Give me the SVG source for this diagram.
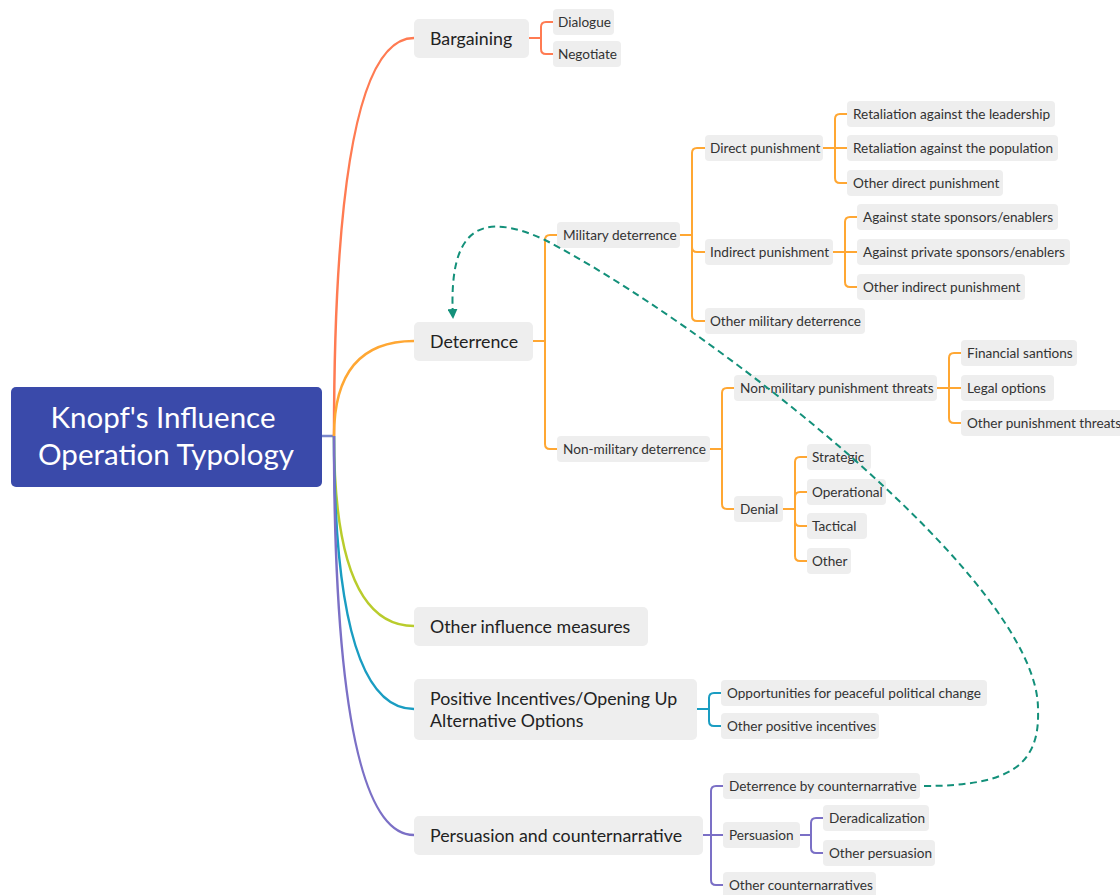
<svg xmlns="http://www.w3.org/2000/svg" width="1120" height="895" viewBox="0 0 1120 895">
<style>
.main rect{fill:#EEEEEE}
.sub rect{fill:#EEEEEE}
.main text{font-family:Lato,"Liberation Sans",sans-serif;font-size:17.8px;fill:#222}
.sub text{font-family:Lato,"Liberation Sans",sans-serif;font-size:13.6px;fill:#333}
.c{fill:none;stroke-width:2;stroke-linecap:round}
.m{fill:none;stroke-width:2.5}
.o1{stroke:#FF7B52}
.o2{stroke:#FFA733}
.o3{stroke:#B9CC2C}
.o4{stroke:#1A9DC2}
.o5{stroke:#7B70C6}
.rel{fill:none;stroke:#13907A;stroke-width:2;stroke-dasharray:7,4.5}
</style>
<defs>
<marker id="arr" viewBox="0 0 10 10" refX="9" refY="5" markerWidth="5" markerHeight="5" orient="auto" markerUnits="strokeWidth">
<path d="M0,0 L10,5 L0,10 z" fill="#13907A"/>
</marker>
</defs>
<g id="connectors">
<path class="m" d="M322,436 H334" stroke="#7986CB"/>
<path class="m o1" d="M334,436 Q334,38 414,38"/>
<path class="m o2" d="M334,436 Q334,341 414,341"/>
<path class="m o3" d="M334,436 Q334,626 414,626"/>
<path class="m o4" d="M334,436 Q334,709 414,709"/>
<path class="m o5" d="M334,436 Q334,835 414,835"/>
<g class="c o1">
<path d="M529,38 H541 M541,38 V27 Q541,22 546,22 H553 M541,38 V49 Q541,54 546,54 H553"/>
</g>
<g class="c o2">
<path d="M533,341 H545 M545,341 V240 Q545,235 550,235 H557 M545,341 V444 Q545,449 550,449 H557"/>
<path d="M680,235 H692 M692,235 V153 Q692,148 697,148 H705 M692,235 V247 Q692,252 697,252 H705 M692,235 V316 Q692,321 697,321 H705"/>
<path d="M823,148 H835 M835,148 V119 Q835,114 840,114 H847 M835,148 H847 M835,148 V178 Q835,183 840,183 H847"/>
<path d="M833,252 H845 M845,252 V222 Q845,217 850,217 H857 M845,252 H857 M845,252 V282 Q845,287 850,287 H857"/>
<path d="M710,449 H722 M722,449 V393 Q722,388 727,388 H734 M722,449 V504 Q722,509 727,509 H734"/>
<path d="M937,388 H949 M949,388 V358 Q949,353 954,353 H961 M949,388 H961 M949,388 V418 Q949,423 954,423 H961"/>
<path d="M783,509 H795 M795,509 V462 Q795,457 800,457 H807 M795,509 V497 Q795,492 800,492 H807 M795,509 V521 Q795,526 800,526 H807 M795,509 V556 Q795,561 800,561 H807"/>
</g>
<g class="c o4">
<path d="M697,709 H709 M709,709 V698 Q709,693 714,693 H721 M709,709 V721 Q709,726 714,726 H721"/>
</g>
<g class="c o5">
<path d="M703,835 H711 M711,835 V791 Q711,786 716,786 H723 M711,835 H723 M711,835 V880 Q711,885 716,885 H723"/>
<path d="M800,835 H811 M811,835 V823 Q811,818 816,818 H823 M811,835 V848 Q811,853 816,853 H823"/>
</g>
</g>
<g id="root">
<rect x="11" y="387" width="311" height="100" rx="5" fill="#3A4AAA"/>
<text x="163" y="428" text-anchor="middle" font-family="Lato,'Liberation Sans',sans-serif" font-size="29.5" fill="#FFFFFF">Knopf's Influence</text>
<text x="166" y="465" text-anchor="middle" font-family="Lato,'Liberation Sans',sans-serif" font-size="29.5" fill="#FFFFFF">Operation Typology</text>
</g>
<g id="bargaining" class="main"><rect x="414" y="19" width="115" height="39" rx="5"/><text x="430" y="44.5">Bargaining</text></g>
<g id="deterrence" class="main"><rect x="414" y="322" width="119" height="39" rx="5"/><text x="430" y="347.5">Deterrence</text></g>
<g id="other-influence" class="main"><rect x="414" y="607" width="234" height="39" rx="5"/><text x="430" y="632.5">Other influence measures</text></g>
<g id="positive" class="main"><rect x="414" y="679" width="283" height="61" rx="5"/><text x="430" y="704.5">Positive Incentives/Opening Up</text><text x="430" y="726.5">Alternative Options</text></g>
<g id="persuasion-main" class="main"><rect x="414" y="816" width="289" height="39" rx="5"/><text x="430" y="841.5">Persuasion and counternarrative</text></g>

<g id="dialogue" class="sub"><rect x="553" y="9" width="61" height="26" rx="4"/><text x="558" y="27">Dialogue</text></g>
<g id="negotiate" class="sub"><rect x="553" y="41" width="68" height="26" rx="4"/><text x="558" y="59">Negotiate</text></g>

<g id="military" class="sub"><rect x="557" y="222" width="123" height="26" rx="4"/><text x="563" y="240">Military deterrence</text></g>
<g id="nonmilitary" class="sub"><rect x="557" y="436" width="153" height="26" rx="4"/><text x="563" y="454">Non-military deterrence</text></g>
<g id="direct" class="sub"><rect x="705" y="135" width="118" height="26" rx="4"/><text x="710" y="153">Direct punishment</text></g>
<g id="indirect" class="sub"><rect x="705" y="239" width="128" height="26" rx="4"/><text x="710" y="257">Indirect punishment</text></g>
<g id="other-military" class="sub"><rect x="705" y="308" width="160" height="26" rx="4"/><text x="710" y="326">Other military deterrence</text></g>
<g id="ret-leadership" class="sub"><rect x="847" y="101" width="208" height="26" rx="4"/><text x="853" y="119">Retaliation against the leadership</text></g>
<g id="ret-population" class="sub"><rect x="847" y="135" width="211" height="26" rx="4"/><text x="853" y="153">Retaliation against the population</text></g>
<g id="other-direct" class="sub"><rect x="847" y="170" width="156" height="26" rx="4"/><text x="853" y="188">Other direct punishment</text></g>
<g id="state-sponsors" class="sub"><rect x="857" y="204" width="201" height="26" rx="4"/><text x="863" y="222">Against state sponsors/enablers</text></g>
<g id="private-sponsors" class="sub"><rect x="857" y="239" width="213" height="26" rx="4"/><text x="863" y="257">Against private sponsors/enablers</text></g>
<g id="other-indirect" class="sub"><rect x="857" y="274" width="168" height="26" rx="4"/><text x="863" y="292">Other indirect punishment</text></g>
<g id="nm-threats" class="sub"><rect x="734" y="375" width="203" height="26" rx="4"/><text x="740" y="393">Non-military punishment threats</text></g>
<g id="denial" class="sub"><rect x="734" y="496" width="49" height="26" rx="4"/><text x="740" y="514">Denial</text></g>
<g id="financial" class="sub"><rect x="961" y="340" width="116" height="26" rx="4"/><text x="967" y="358">Financial santions</text></g>
<g id="legal" class="sub"><rect x="961" y="375" width="93" height="26" rx="4"/><text x="967" y="393">Legal options</text></g>
<g id="other-threats" class="sub"><rect x="961" y="410" width="163" height="26" rx="4"/><text x="967" y="428">Other punishment threats</text></g>
<g id="strategic" class="sub"><rect x="807" y="444" width="64" height="26" rx="4"/><text x="812" y="462">Strategic</text></g>
<g id="operational" class="sub"><rect x="807" y="479" width="79" height="26" rx="4"/><text x="812" y="497">Operational</text></g>
<g id="tactical" class="sub"><rect x="807" y="513" width="60" height="26" rx="4"/><text x="812" y="531">Tactical</text></g>
<g id="other-denial" class="sub"><rect x="807" y="548" width="44" height="26" rx="4"/><text x="812" y="566">Other</text></g>

<g id="opportunities" class="sub"><rect x="721" y="680" width="266" height="26" rx="4"/><text x="727" y="698">Opportunities for peaceful political change</text></g>
<g id="other-positive" class="sub"><rect x="721" y="713" width="158" height="26" rx="4"/><text x="727" y="731">Other positive incentives</text></g>

<g id="det-counter" class="sub"><rect x="723" y="773" width="197" height="26" rx="4"/><text x="729" y="791">Deterrence by counternarrative</text></g>
<g id="persuasion" class="sub"><rect x="723" y="822" width="77" height="26" rx="4"/><text x="729" y="840">Persuasion</text></g>
<g id="other-counter" class="sub"><rect x="723" y="872" width="153" height="26" rx="4"/><text x="729" y="890">Other counternarratives</text></g>
<g id="deradicalization" class="sub"><rect x="823" y="805" width="106" height="26" rx="4"/><text x="829" y="823">Deradicalization</text></g>
<g id="other-persuasion" class="sub"><rect x="823" y="840" width="112" height="26" rx="4"/><text x="829" y="858">Other persuasion</text></g>

<g id="relationship">
<path class="rel" marker-end="url(#arr)" d="M924,786 C1010,786 1040,765 1038,710 C1040,580 700,320 545,240 C480,210 448,228 453,318"/>
</g>
</svg>
